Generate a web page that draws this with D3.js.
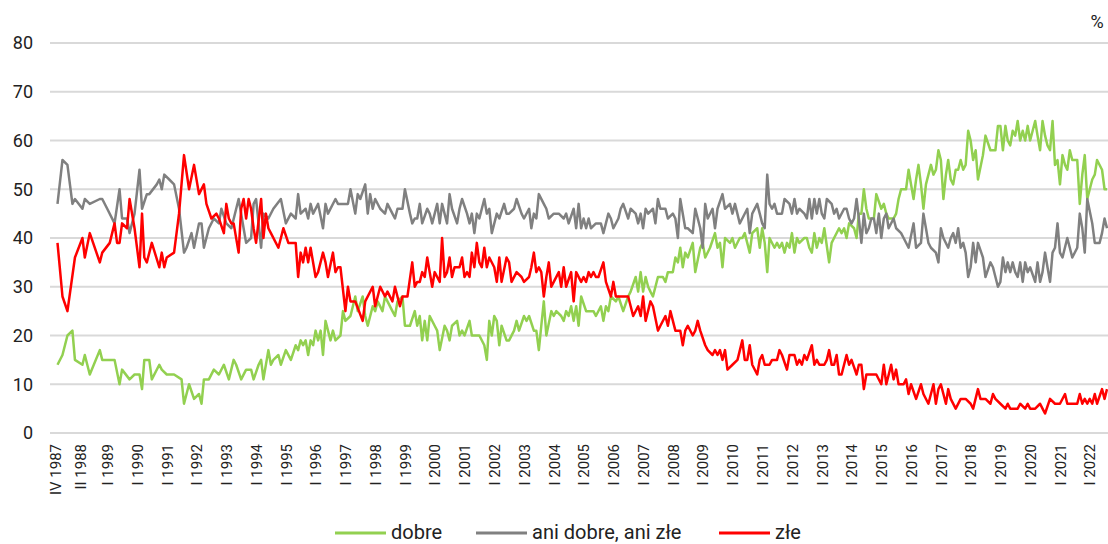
<!DOCTYPE html>
<html lang="pl">
<head>
<meta charset="utf-8">
<title>Oceny sytuacji politycznej w Polsce</title>
<script src="https://cdn.jsdelivr.net/npm/d3@7"></script>
<style>
  html, body { margin: 0; padding: 0; background: #fff; }
  svg { display: block; font-family: Roboto, "Noto Sans", sans-serif; }
</style>
</head>
<body>
<svg id="chart" width="1108" height="544"></svg>
<script>
// each point: [months since IV 1987, %]
const dobre = [[0,14],[2,16],[4,20],[6,21],[7,15],[10,14],[11,16],[13,12],[17,17],[18,15],[23,15],[25,10],[26,13],[29,11],[31,12],[33,12],[34,9],[35,15],[37,15],[38,11],[41,14],[42,13],[44,12],[47,12],[50,11],[51,6],[53,10],[55,7],[57,8],[58,6],[59,11],[61,11],[63,13],[65,12],[67,14],[69,11],[71,15],[72,14],[74,11],[76,13],[78,13],[79,11],[81,14],[82,15],[83,11],[85,17],[86,14],[87,15],[89,16],[90,14],[92,17],[94,15],[96,18],[97,17],[98,19],[99,18],[100,19],[101,16],[102,19],[103,18],[104,21],[105,19],[106,21],[107,16],[108,23],[110,19],[111,21],[112,19],[114,20],[115,25],[116,23],[118,24],[120,28],[121,25],[123,28],[124,24],[125,22],[127,26],[128,25],[129,27],[131,25],[132,28],[133,27],[135,25],[136,24],[137,27],[139,28],[140,22],[142,22],[144,25],[145,22],[146,24],[147,19],[148,23],[149,19],[150,24],[152,22],[153,21],[154,17],[156,22],[157,21],[158,19],[159,22],[161,23],[162,20],[163,21],[164,20],[166,23],[167,20],[168,20],[170,20],[172,18],[173,15],[174,23],[175,20],[176,24],[177,23],[178,18],[179,22],[181,19],[182,19],[184,21],[185,23],[186,21],[188,24],[189,23],[190,24],[192,21],[193,21],[194,17],[195,22],[196,27],[197,20],[199,25],[200,24],[201,25],[203,24],[204,23],[205,25],[206,24],[207,26],[208,23],[209,26],[210,22],[211,28],[213,25],[215,25],[216,25],[217,24],[219,26],[220,23],[221,26],[222,25],[223,28],[225,27],[226,28],[228,25],[230,28],[231,29],[233,32],[234,29],[235,33],[236,29],[237,32],[238,30],[239,29],[240,28],[242,32],[243,32],[244,32],[245,31],[246,33],[248,33],[249,36],[250,35],[251,38],[252,34],[253,37],[254,36],[256,39],[257,33],[259,38],[260,39],[261,36],[263,38],[265,41],[266,38],[267,39],[268,34],[269,40],[271,39],[272,40],[273,38],[275,40],[276,40],[277,41],[279,37],[280,41],[282,42],[283,38],[284,42],[285,39],[286,33],[287,40],[289,38],[290,39],[291,38],[292,39],[293,37],[294,39],[295,38],[296,41],[297,37],[298,40],[299,39],[301,40],[302,40],[303,38],[304,37],[305,41],[306,38],[307,40],[308,39],[309,42],[311,35],[312,39],[313,40],[315,42],[316,41],[317,42],[318,40],[319,43],[321,42],[322,40],[323,45],[324,45],[325,50],[326,46],[327,44],[329,44],[330,49],[332,46],[333,47],[334,45],[335,44],[337,44],[338,45],[339,48],[340,50],[342,50],[343,54],[344,51],[345,48],[346,52],[347,55],[348,51],[349,46],[350,51],[352,55],[353,53],[354,54],[355,58],[356,56],[357,48],[358,53],[359,56],[360,52],[361,51],[362,54],[363,54],[364,56],[365,54],[366,55],[367,62],[368,60],[369,56],[370,58],[371,52],[373,57],[374,61],[376,58],[378,58],[379,63],[380,63],[381,58],[382,63],[383,60],[384,59],[385,62],[386,61],[387,64],[388,60],[389,62],[390,60],[391,63],[392,60],[393,62],[394,64],[395,61],[396,58],[397,64],[398,61],[399,59],[400,58],[401,64],[402,55],[403,56],[404,51],[405,57],[406,55],[407,54],[408,58],[409,56],[411,56],[412,47],[413,53],[414,57],[415,48],[417,52],[418,53],[419,56],[421,54],[422,50],[423,50]];

const aniDobreAniZle = [[0,47],[2,56],[4,55],[6,47],[7,48],[10,46],[11,48],[13,47],[17,48],[18,48],[20,46],[23,43],[25,50],[26,44],[28,44],[29,41],[31,45],[33,54],[34,46],[36,49],[37,49],[40,51],[41,52],[42,50],[43,53],[45,52],[47,51],[49,46],[51,37],[52,38],[54,41],[55,38],[57,43],[58,43],[59,38],[61,42],[63,44],[65,43],[66,46],[68,43],[70,42],[73,48],[75,42],[76,39],[78,40],[79,47],[80,48],[82,38],[83,45],[85,44],[87,46],[90,48],[92,43],[94,45],[96,44],[97,49],[98,45],[100,46],[101,44],[102,47],[103,45],[105,47],[107,42],[108,47],[109,45],[112,48],[113,47],[115,47],[117,47],[118,50],[120,45],[121,49],[122,48],[124,51],[125,45],[126,49],[127,46],[128,48],[130,46],[132,45],[133,47],[135,45],[136,44],[137,46],[139,46],[140,50],[142,45],[143,43],[144,44],[145,44],[146,47],[147,43],[149,46],[150,45],[151,43],[153,47],[154,43],[155,47],[157,43],[158,49],[159,46],[161,43],[162,46],[163,48],[165,45],[166,43],[167,45],[168,41],[169,45],[170,44],[172,48],[173,45],[174,46],[175,41],[177,45],[178,44],[180,47],[181,45],[182,45],[184,46],[185,48],[187,45],[188,44],[190,46],[191,42],[192,45],[193,44],[194,49],[196,47],[197,46],[198,44],[200,45],[202,45],[204,44],[205,45],[206,43],[208,46],[209,42],[210,47],[211,42],[212,44],[213,42],[214,44],[215,42],[217,43],[219,43],[220,41],[222,45],[223,44],[224,42],[226,44],[227,46],[228,47],[230,44],[231,46],[233,45],[234,43],[235,45],[236,42],[237,46],[238,45],[240,46],[241,43],[242,48],[243,46],[245,46],[246,44],[248,45],[249,44],[250,40],[251,48],[253,42],[254,42],[256,41],[257,46],[259,42],[260,38],[261,47],[262,44],[264,46],[265,42],[266,46],[268,49],[269,46],[271,47],[272,45],[273,47],[275,43],[276,44],[278,46],[279,41],[280,45],[282,47],[283,45],[284,43],[285,42],[286,53],[287,47],[288,46],[289,47],[290,45],[292,45],[293,48],[295,47],[296,45],[297,48],[298,45],[299,46],[301,45],[302,44],[303,48],[304,44],[305,48],[306,45],[307,48],[308,45],[309,44],[310,48],[312,47],[313,45],[314,46],[315,44],[317,46],[318,46],[319,44],[320,43],[321,44],[322,48],[323,44],[324,39],[325,45],[326,41],[327,42],[328,44],[329,44],[330,41],[331,45],[332,40],[333,44],[334,45],[335,42],[337,44],[338,42],[340,41],[341,40],[343,38],[345,43],[346,38],[348,39],[349,45],[350,42],[351,39],[352,38],[354,37],[355,35],[356,42],[357,40],[359,38],[360,40],[361,41],[362,39],[363,42],[364,38],[365,39],[366,37],[367,32],[368,34],[369,39],[370,35],[371,39],[373,36],[374,32],[376,35],[377,34],[379,30],[380,31],[381,36],[382,33],[383,35],[384,33],[385,35],[386,33],[387,32],[388,35],[389,31],[390,35],[391,33],[392,34],[394,31],[395,35],[396,31],[397,33],[398,37],[399,34],[400,31],[401,37],[402,38],[403,43],[404,37],[405,36],[407,40],[408,38],[409,36],[411,38],[412,45],[413,42],[414,37],[415,48],[417,43],[418,39],[420,39],[421,41],[422,44],[423,42]];

const zle = [[0,39],[2,28],[4,25],[7,36],[10,40],[11,36],[13,41],[17,35],[18,37],[21,39],[23,43],[24,39],[25,39],[26,43],[28,42],[29,48],[31,42],[33,34],[34,45],[35,36],[36,35],[38,39],[41,34],[42,37],[43,34],[44,36],[47,37],[49,45],[51,57],[53,50],[55,55],[57,49],[59,51],[60,47],[62,44],[64,45],[65,44],[67,41],[68,47],[69,44],[70,43],[71,43],[73,37],[74,46],[75,48],[76,44],[77,48],[78,46],[79,42],[80,39],[82,48],[83,40],[84,45],[85,42],[86,41],[89,38],[91,42],[93,39],[96,39],[97,32],[98,37],[99,35],[100,38],[101,35],[102,38],[104,32],[105,33],[107,37],[108,35],[109,32],[111,37],[112,33],[113,34],[114,34],[116,25],[117,30],[118,27],[120,27],[123,23],[124,27],[127,30],[128,26],[130,30],[132,28],[133,29],[135,27],[136,30],[138,26],[139,28],[141,28],[143,35],[144,30],[145,31],[146,31],[147,33],[148,32],[149,36],[150,33],[151,30],[152,33],[153,32],[154,31],[155,40],[156,32],[157,33],[158,36],[159,32],[160,34],[162,34],[163,36],[164,32],[165,33],[166,32],[167,37],[168,34],[169,39],[170,35],[171,34],[172,38],[173,34],[174,36],[176,34],[177,31],[178,36],[179,31],[181,36],[182,35],[183,31],[185,33],[187,32],[188,31],[190,32],[191,34],[192,37],[193,33],[194,34],[195,33],[196,28],[197,32],[198,35],[199,30],[200,31],[202,33],[203,30],[204,34],[205,30],[207,33],[208,27],[209,33],[211,31],[212,32],[213,31],[214,33],[215,32],[216,33],[217,32],[218,32],[220,35],[221,31],[223,28],[224,31],[225,28],[230,28],[232,24],[234,26],[235,24],[236,28],[237,23],[239,27],[240,26],[242,21],[243,22],[245,24],[246,22],[247,25],[249,21],[251,21],[252,18],[253,21],[254,22],[256,20],[257,21],[258,23],[259,21],[261,18],[262,17],[264,16],[265,17],[266,16],[267,17],[268,15],[269,17],[270,13],[272,14],[274,15],[276,19],[277,15],[278,15],[279,18],[280,14],[282,12],[283,15],[284,16],[285,14],[287,14],[288,15],[290,15],[291,17],[292,16],[294,13],[295,16],[297,16],[298,14],[299,15],[300,14],[301,16],[302,15],[304,18],[305,14],[306,15],[307,14],[309,14],[310,15],[311,17],[312,14],[313,14],[314,16],[315,12],[316,12],[318,16],[319,14],[320,15],[322,12],[323,14],[324,14],[325,9],[326,12],[329,12],[330,12],[332,10],[333,14],[334,10],[336,14],[337,11],[338,13],[339,10],[341,10],[342,11],[343,8],[344,10],[346,7],[348,10],[349,8],[351,6],[353,10],[354,6],[355,9],[356,10],[358,6],[359,9],[360,7],[362,5],[364,7],[366,7],[368,6],[369,5],[371,9],[372,7],[374,7],[376,6],[377,8],[378,7],[380,6],[382,5],[383,6],[384,5],[387,5],[388,6],[390,5],[391,6],[392,5],[394,5],[396,6],[397,5],[398,4],[400,7],[402,6],[404,6],[406,8],[407,6],[409,6],[411,6],[412,8],[413,6],[414,7],[415,6],[416,7],[417,6],[418,8],[419,6],[421,9],[422,7],[423,9]];

const seriesNames = ["dobre", "ani dobre, ani złe", "złe"];
const seriesColors = ["#92d050", "#808080", "#ff0000"];
const yTicks = [0, 10, 20, 30, 40, 50, 60, 70, 80];
const xTickLabels = ["IV 1987", "II 1988", "I 1989", "I 1990", "I 1991", "I 1992", "I 1993", "I 1994",
  "I 1995", "I 1996", "I 1997", "I 1998", "I 1999", "I 2000", "I 2001", "I 2002", "I 2003", "I 2004",
  "I 2005", "I 2006", "I 2007", "I 2008", "I 2009", "I 2010", "I 2011", "I 2012", "I 2013", "I 2014",
  "I 2015", "I 2016", "I 2017", "I 2018", "I 2019", "I 2020", "I 2021", "I 2022"];

const start = new Date(1987, 3, 1);
const lastMonth = 423;
const romanMonth = { I: 0, II: 1, III: 2, IV: 3, V: 4, VI: 5, VII: 6, VIII: 7, IX: 8, X: 9, XI: 10, XII: 11 };
const labelDate = (s) => {
  const [r, yr] = s.split(" ");
  return new Date(+yr, romanMonth[r], 1);
};

const svg = d3.select("#chart");
const plot = { left: 50, right: 1108, top: 43, bottom: 433 };

const x = d3.scaleTime()
  .domain([start, d3.timeMonth.offset(start, lastMonth)])
  .range([57.5, 1107]);
const y = d3.scaleLinear().domain([0, 80]).range([plot.bottom, plot.top]);

// gridlines
svg.append("g")
  .selectAll("line")
  .data(yTicks)
  .join("line")
  .attr("x1", plot.left)
  .attr("x2", plot.right)
  .attr("y1", (d) => y(d))
  .attr("y2", (d) => y(d))
  .attr("stroke", "#d9d9d9")
  .attr("stroke-width", 1.8);

// y labels
svg.append("g")
  .selectAll("text")
  .data(yTicks)
  .join("text")
  .attr("x", 33)
  .attr("y", (d) => y(d))
  .attr("dy", "0.35em")
  .attr("text-anchor", "end")
  .attr("font-size", 18)
  .attr("fill", "#222")
  .text((d) => d);

svg.append("text")
  .attr("x", 1097)
  .attr("y", 28)
  .attr("text-anchor", "middle")
  .attr("font-size", 18)
  .attr("fill", "#222")
  .text("%");

// x labels, vertical
svg.append("g")
  .selectAll("text")
  .data(xTickLabels)
  .join("text")
  .attr("transform", (d) => "translate(" + (x(labelDate(d)) - 2) + ",444) rotate(-90)")
  .attr("dy", "0.35em")
  .attr("text-anchor", "end")
  .attr("font-size", 15)
  .attr("fill", "#222")
  .text((d) => d);

// lines
const line = d3.line()
  .x((d) => x(d3.timeMonth.offset(start, d[0])))
  .y((d) => y(d[1]));

svg.append("g")
  .selectAll("path")
  .data([dobre, aniDobreAniZle, zle])
  .join("path")
  .attr("d", line)
  .attr("fill", "none")
  .attr("stroke", (d, i) => seriesColors[i])
  .attr("stroke-width", 2.5)
  .attr("stroke-linejoin", "round");

// legend
const legendX = [335, 476, 719];
const legend = svg.append("g")
  .selectAll("g")
  .data(seriesNames)
  .join("g")
  .attr("transform", (d, i) => "translate(" + legendX[i] + ",533)");
legend.append("line")
  .attr("x1", 0)
  .attr("x2", 51)
  .attr("stroke", (d, i) => seriesColors[i])
  .attr("stroke-width", 3);
legend.append("text")
  .attr("x", 56)
  .attr("y", 6)
  .attr("font-size", 20)
  .attr("fill", "#222")
  .text((d) => d);
</script>
</body>
</html>
